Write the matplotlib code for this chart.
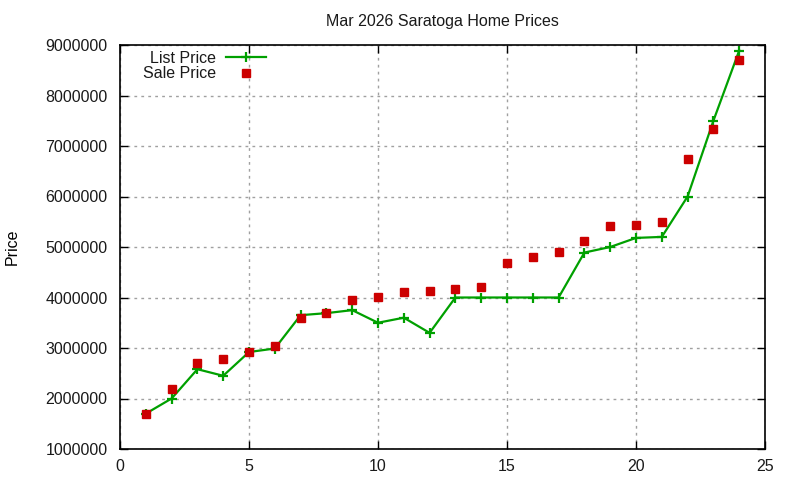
import matplotlib
matplotlib.use("Agg")
import matplotlib.pyplot as plt

x_vals = list(range(1, 25))
list_price = [1700000, 2000000, 2580000, 2450000, 2920000, 2990000, 3650000, 3690000,
              3750000, 3500000, 3600000, 3300000, 4000000, 4000000, 4000000, 4000000,
              4000000, 4890000, 5000000, 5180000, 5200000, 6000000, 7500000, 8890000]
sale_price = [1700000, 2190000, 2710000, 2790000, 2930000, 3030000, 3600000, 3700000,
              3950000, 4010000, 4110000, 4130000, 4170000, 4210000, 4690000, 4810000,
              4910000, 5120000, 5420000, 5435000, 5500000, 6740000, 7340000, 8710000]
x_ticks = [0, 5, 10, 15, 20, 25]
y_ticks = [1000000, 2000000, 3000000, 4000000, 5000000, 6000000, 7000000, 8000000, 9000000]

plt.rcParams['font.family'] = ['Liberation Sans', 'DejaVu Sans']
plt.rcParams['font.size'] = 11.5
plt.rcParams['text.color'] = '#1a1a1a'
plt.rcParams['xtick.labelcolor'] = '#1a1a1a'
plt.rcParams['ytick.labelcolor'] = '#1a1a1a'

fig = plt.figure(figsize=(8, 4.8), dpi=100)
ax = fig.add_axes([120/800, 1 - 449/480, (765-120)/800, (449-45)/480])

ax.plot(x_vals, list_price, color='#00a000', linewidth=1.6, marker='+', markersize=7,
        markeredgewidth=1.6, label='List Price')
ax.plot(x_vals, sale_price, linestyle='none', color='#cc0000', marker='s', markersize=6.2,
        label='Sale Price')

ax.set_xlim(0, 25)
ax.set_ylim(1000000, 9000000)
ax.set_xticks(x_ticks)
ax.set_yticks(y_ticks)
ax.set_yticklabels([str(v) for v in y_ticks])
ax.tick_params(direction='in', top=True, right=True, length=6, width=1)
ax.tick_params(axis='y', pad=9)
ax.tick_params(axis='x', pad=7)
ax.grid(True, color='#a0a0a0', linestyle=(0, (2, 3)), linewidth=1)
for s in ax.spines.values():
    s.set_linewidth(1.2)

ax.set_title('Mar 2026 Saratoga Home Prices', fontsize=11.5, pad=14)
ax.set_ylabel('Price', labelpad=18)

leg = ax.legend(loc='upper left', bbox_to_anchor=(0.021, 1.01), frameon=False,
                markerfirst=False, handlelength=2.5, handletextpad=0.6,
                labelspacing=0.05, borderaxespad=0.2)

fig.savefig('out.png', dpi=100)
